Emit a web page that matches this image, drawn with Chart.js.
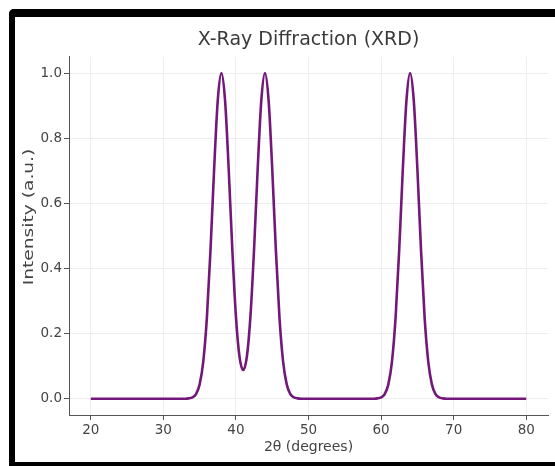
<!DOCTYPE html>
<html>
<head>
<meta charset="utf-8">
<script src="https://cdn.jsdelivr.net/npm/chart.js@4/dist/chart.umd.min.js"></script>
<style>
	html, body { margin: 0; padding: 0; background: #fff; overflow: hidden; }
	#wrap { position: relative; width: 555px; height: 466px; }
	#frame {
		position: absolute; left: 9px; top: 9px; width: 600px; height: 445px;
		border-left: 6px solid #000; border-top: 8px solid #000; border-bottom: 4px solid #000;
		border-top-left-radius: 5px; pointer-events: none;
	}
</style>
</head>
<body>
<div id="wrap">
	<canvas id="chart" width="555" height="466"></canvas>
	<div id="frame"></div>
</div>
<script>
// 2θ positions (degrees) and intensities
const twoTheta = [
	20, 33, 33.5, 34, 34.5, 35, 35.5, 36, 36.5, 37, 37.5, 38, 38.5, 39, 39.5, 40,
	40.5, 41, 41.5, 42, 42.5, 43, 43.5, 44, 44.5, 45, 45.5, 46, 46.5, 47, 47.5, 48,
	48.5, 49, 59, 59.5, 60, 60.5, 61, 61.5, 62, 62.5, 63, 63.5, 64, 64.5, 65, 65.5,
	66, 66.5, 67, 67.5, 68, 68.5, 69, 80
]
const intensity = [
	0, 0, 0.001, 0.004, 0.014, 0.044, 0.114, 0.249, 0.458, 0.707, 0.917, 1.0, 0.917, 0.707, 0.459, 0.253,
	0.128, 0.088, 0.128, 0.253, 0.459, 0.707, 0.917, 1.0, 0.917, 0.707, 0.458, 0.249, 0.114, 0.044, 0.014, 0.004,
	0.001, 0, 0, 0.001, 0.004, 0.014, 0.044, 0.114, 0.249, 0.458, 0.707, 0.917, 1.0, 0.917, 0.707, 0.458,
	0.249, 0.114, 0.044, 0.014, 0.004, 0.001, 0, 0
]
const xTicks = [20, 30, 40, 50, 60, 70, 80]
const yTicks = [0, 0.2, 0.4, 0.6, 0.8, 1.0]

const textColor = '#444'
const font = { family: 'DejaVu Sans', size: 13.5 }

// y label drawn by hand; the reference stretches it along its length
const yLabelPlugin = {
	id: 'yLabel',
	afterDraw(chart) {
		const ctx = chart.ctx
		ctx.save()
		ctx.translate(29, 217)
		ctx.rotate(-Math.PI / 2)
		ctx.scale(1.38, 1)
		ctx.font = '13.5px "DejaVu Sans"'
		ctx.fillStyle = textColor
		ctx.textAlign = 'center'
		ctx.textBaseline = 'middle'
		ctx.fillText('Intensity (a.u.)', 0, 0)
		ctx.restore()
	}
}

new Chart(document.getElementById('chart'), {
	type: 'line',
	data: {
		datasets: [{
			data: twoTheta.map((x, i) => ({ x, y: intensity[i] })),
			borderColor: '#74177a',
			borderWidth: 2.6,
			pointRadius: 0,
			cubicInterpolationMode: 'monotone',
			fill: false
		}]
	},
	options: {
		responsive: false,
		animation: false,
		devicePixelRatio: 1,
		layout: { padding: { top: 27, left: 0, right: 7, bottom: 0 } },
		plugins: {
			legend: { display: false },
			tooltip: { enabled: false },
			title: {
				display: true,
				fullSize: false,
				text: 'X-Ray Diffraction (XRD)',
				color: '#3a3a3a',
				font: { family: 'DejaVu Sans', size: 19, weight: 'normal' },
				padding: { top: 2, bottom: 5 }
			}
		},
		scales: {
			x: {
				type: 'linear',
				min: 17,
				max: 83,
				afterBuildTicks: s => { s.ticks = xTicks.map(v => ({ value: v })) },
				afterFit: s => { s.height = 51 },
				grid: { color: '#ededed', tickColor: '#555', tickLength: 5 },
				border: { color: '#555', width: 1 },
				ticks: { color: textColor, font, padding: 2, maxRotation: 0 },
				title: {
					display: true,
					text: '2θ (degrees)',
					color: textColor,
					font: { family: 'DejaVu Sans', size: 14 },
					padding: { top: 0, bottom: 10 }
				}
			},
			y: {
				min: -0.05,
				max: 1.05,
				afterBuildTicks: s => { s.ticks = yTicks.map(v => ({ value: v })) },
				afterFit: s => { s.width = 69 },
				grid: { color: '#ededed', tickColor: '#555', tickLength: 5 },
				border: { color: '#555', width: 1 },
				ticks: { color: textColor, font, padding: 2, callback: v => v.toFixed(1) }
			}
		}
	},
	plugins: [yLabelPlugin]
})
</script>
</body>
</html>
